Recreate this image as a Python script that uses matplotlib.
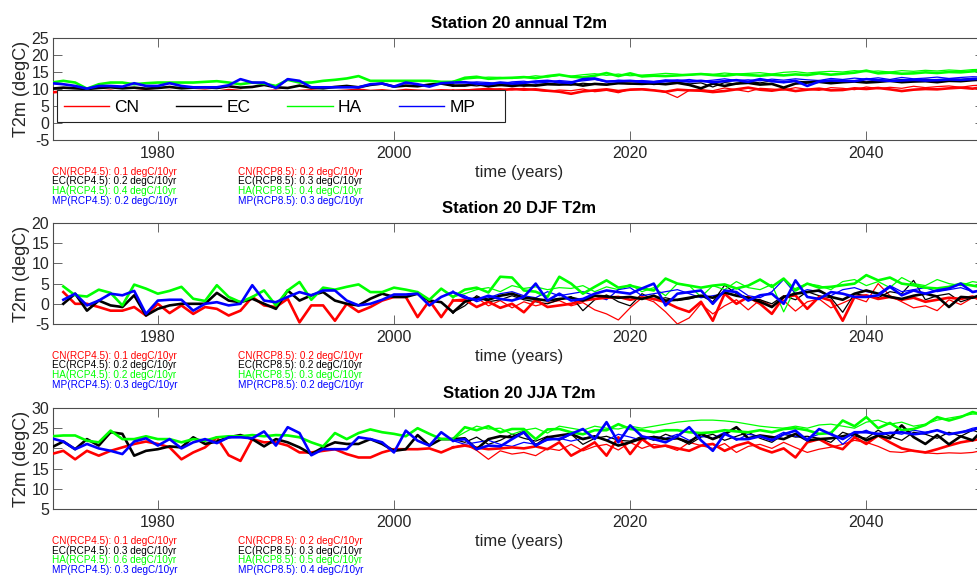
import matplotlib
matplotlib.use('Agg')
import matplotlib.pyplot as plt
from matplotlib.lines import Line2D
from matplotlib.patches import Rectangle

plt.rcParams['font.family'] = ['Liberation Sans', 'DejaVu Sans']
plt.rcParams['axes.unicode_minus'] = False

# ---------------- data ----------------
models = ['CN', 'EC', 'HA', 'MP']
model_colors = ['#ff0000', '#000000', '#00ff00', '#0000ff']

hist_years = list(range(1971, 2006))
djf_hist_years = list(range(1972, 2006))
fut_years = list(range(2006, 2051))

# annual
ann_hist_CN = [9.0, 9.3, 9.1, 8.8, 9.2, 9.5, 9.0, 9.3, 9.6, 9.2, 9.4, 9.1, 9.3, 9.5, 9.2, 9.7, 9.4, 9.0, 9.3, 9.5,
               9.1, 9.4, 9.6, 9.2, 9.3, 9.5, 9.8, 9.4, 9.6, 9.3, 9.7, 9.5, 9.4, 9.6, 9.5]
ann_hist_EC = [10.1, 10.4, 10.2, 10.0, 10.3, 10.5, 10.2, 10.4, 10.1, 10.3, 10.6, 10.2, 10.4, 10.5, 10.3, 10.8, 10.4, 10.6,
               11.2, 10.5, 10.3, 11.0, 10.4, 10.2, 10.6, 10.9, 10.5, 11.2, 11.6, 10.7, 11.0, 10.8, 11.3, 11.6, 11.0]
ann_hist_HA = [11.9, 12.4, 11.9, 10.1, 11.4, 11.9, 11.9, 11.4, 11.7, 11.9, 11.9, 11.9, 11.9, 12.1, 12.3, 11.9, 11.4, 11.9,
               11.6, 10.9, 12.7, 11.9, 11.9, 12.4, 12.7, 13.1, 13.8, 12.4, 12.4, 12.4, 12.4, 12.4, 12.4, 12.1, 12.1]
ann_hist_MP = [11.7, 11.4, 10.9, 10.1, 10.9, 10.9, 10.7, 11.7, 10.9, 10.9, 11.7, 10.9, 10.5, 10.5, 10.5, 11.1, 12.9, 11.9,
               11.9, 10.3, 12.9, 12.4, 10.5, 10.5, 10.5, 10.5, 10.5, 11.4, 11.6, 10.7, 11.9, 11.4, 10.7, 11.7, 11.9]

ann_45_CN = [9.5, 9.8, 10.0, 9.6, 10.0, 9.8, 9.9, 9.5, 9.2, 8.6, 9.3, 9.6, 9.9, 9.4, 9.8, 9.9, 9.6, 9.2, 9.8, 9.6,
             9.5, 9.1, 9.4, 9.9, 10.4, 9.8, 9.5, 10.0, 9.4, 9.8, 10.1, 9.6, 9.7, 10.2, 10.0, 10.3, 9.9, 9.4, 9.8, 10.0,
             9.9, 10.2, 10.4, 10.1, 10.6]
ann_85_CN = [9.8, 9.5, 9.9, 10.1, 9.7, 10.2, 9.6, 9.3, 9.7, 9.5, 10.0, 9.2, 9.6, 8.9, 9.9, 10.1, 9.7, 9.0, 7.5, 9.6,
             9.8, 9.5, 10.3, 9.8, 9.2, 10.2, 10.0, 9.7, 10.4, 9.9, 9.6, 10.4, 10.2, 9.8, 10.6, 10.1, 10.5, 10.2, 10.8, 10.4,
             10.7, 10.9, 10.5, 11.0, 11.2]
ann_45_EC = [11.0, 11.5, 10.8, 11.2, 10.9, 11.2, 11.0, 11.4, 11.3, 11.6, 11.0, 11.5, 11.3, 11.7, 11.6, 11.5, 11.7, 11.4,
             11.8, 11.2, 10.2, 11.6, 10.9, 11.6, 11.8, 11.3, 11.5, 10.4, 11.6, 11.9, 12.1, 11.7, 12.0, 12.2, 11.9, 12.1,
             12.4, 12.0, 12.2, 12.3, 12.0, 12.4, 12.3, 12.6, 12.8]
ann_85_EC = [11.2, 10.9, 11.3, 11.0, 11.5, 10.8, 11.2, 11.6, 11.3, 11.1, 11.7, 11.4, 11.2, 11.8, 11.5, 11.9, 11.3, 11.6,
             12.0, 11.5, 11.8, 10.6, 11.9, 11.4, 12.2, 11.8, 12.4, 11.9, 12.3, 12.1, 12.5, 12.2, 12.6, 12.3, 12.0, 12.7,
             12.4, 12.8, 12.5, 12.9, 12.6, 13.0, 12.8, 13.1, 13.0]
ann_45_HA = [13.3, 13.6, 13.0, 13.2, 13.3, 13.5, 13.2, 13.8, 14.2, 13.6, 13.4, 13.9, 14.7, 13.8, 14.6, 13.7, 13.9, 13.8,
             14.0, 14.2, 14.4, 14.1, 13.9, 14.3, 14.1, 13.9, 14.2, 14.0, 14.3, 14.1, 14.6, 14.2, 14.5, 14.8, 15.4, 14.6,
             14.8, 14.5, 14.6, 14.9, 14.7, 15.0, 14.9, 15.2, 15.5]
ann_85_HA = [12.9, 13.2, 13.5, 13.4, 13.1, 13.4, 13.9, 13.5, 14.0, 13.8, 14.2, 14.5, 14.0, 14.4, 13.9, 14.1, 14.3, 14.6,
             14.4, 14.0, 14.5, 14.3, 14.7, 14.4, 14.6, 14.8, 14.4, 14.9, 15.1, 14.7, 15.0, 15.2, 15.0, 15.4, 15.1, 15.3,
             15.0, 15.4, 15.2, 15.5, 15.3, 15.6, 15.4, 15.7, 15.8]
ann_45_MP = [12.0, 11.6, 11.4, 11.9, 11.6, 11.8, 12.2, 12.4, 12.0, 11.8, 12.9, 13.1, 12.2, 12.3, 12.4, 12.1, 12.0, 12.3,
             12.5, 12.2, 12.4, 12.0, 12.3, 12.6, 12.1, 12.9, 12.3, 12.0, 12.4, 10.9, 12.2, 12.5, 12.4, 12.3, 12.9, 12.6,
             12.4, 12.5, 12.7, 12.5, 12.6, 12.8, 12.7, 12.9, 13.1]
ann_85_MP = [11.8, 12.1, 11.9, 11.5, 12.1, 12.3, 11.7, 12.0, 12.5, 12.2, 12.4, 12.8, 12.1, 12.6, 12.3, 12.5, 12.2, 12.7,
             12.4, 12.8, 12.3, 12.6, 13.0, 12.5, 12.7, 12.4, 12.9, 12.6, 13.0, 12.7, 12.5, 13.1, 12.8, 13.2, 12.9, 13.3,
             12.8, 13.4, 13.0, 13.2, 13.5, 13.1, 13.4, 13.6, 13.5]

# DJF
djf_hist_CN = [2.9, 0.0, 0.0, -0.8, -1.7, -1.7, -0.8, -2.9, 0.0, -2.3, -0.4, -2.5, -0.8, -1.25, -2.9, -1.7, 1.7, -0.4,
               -0.8, 1.25, -4.6, -0.4, -0.4, -4.2, 0.0, -2.0, -0.8, 0.8, 1.7, 1.7, -3.3, 0.8, -3.3, 0.8]
djf_hist_EC = [0.0, 2.5, -1.7, 0.8, -0.4, -0.8, 2.1, -2.9, -1.25, -0.4, 0.0, 0.0, 0.0, 2.7, 0.8, 0.4, 1.25, 0.0, -1.25,
               3.3, 0.8, 2.1, 2.9, 0.8, 0.0, -0.4, 1.25, 2.5, 1.7, 1.7, 2.5, 0.8, 0.4, -2.1]
djf_hist_HA = [4.3, 2.1, 1.8, 3.5, 2.7, -0.4, 4.75, 3.75, 2.5, 3.2, 4.2, 1.25, 0.7, 4.6, 1.7, 0.4, 1.7, 3.3, -0.4, 3.3,
               5.4, 1.0, 4.0, 3.5, 4.2, 4.8, 2.9, 2.9, 4.0, 3.5, 2.9, 1.0, 3.75, 1.7]
djf_hist_MP = [1.0, 2.5, -0.4, 0.8, 2.5, 2.1, 3.2, -2.5, 0.8, 1.0, 1.0, -1.7, 0.0, 0.4, -0.4, 0.0, 4.6, 0.8, 0.4, 1.7,
               2.9, 2.1, 3.3, 3.3, 0.8, -0.4, 0.0, 1.0, 2.3, 2.3, 2.5, -0.4, 1.7, 2.9]

djf_45_CN = [1.0, -0.8, 0.5, -1.0, 0.0, -2.1, 1.0, -0.8, -0.4, 0.0, 0.8, 1.2, 1.5, 1.7, 1.0, 1.6, 1.2, 0.4, -1.0, -2.0,
             0.5, -4.2, 2.5, 0.0, 1.7, 0.0, -2.5, 1.7, 2.1, -1.25, 1.7, 0.8, -4.2, 1.7, 2.1, 1.2, 1.7, 1.0, 1.5, 0.5,
             1.0, 1.5, 1.2, 1.8, 0.5]
djf_85_CN = [0.5, 1.5, -0.5, 0.8, -1.0, 0.5, -0.5, 0.2, 0.8, -0.5, 0.3, -1.5, -2.5, -4.0, -1.0, 1.5, 0.5, -2.0, -5.0,
             -3.5, 0.0, -2.5, -0.5, 1.0, -1.5, 1.0, -0.5, 0.8, -1.8, 0.5, 1.2, -1.0, 0.2, 1.5, 0.5, 5.0, 2.0, 0.5, -1.0,
             -0.5, -1.7, 1.0, -0.2, 1.5, 1.0]
djf_45_EC = [0.5, 1.5, 1.0, 2.0, 2.5, 1.5, 1.2, 0.8, 1.2, 1.5, 0.8, 2.0, 1.8, 1.5, 1.7, 1.2, 2.0, 0.8, 1.0, 1.5, 2.0,
             1.5, 2.8, 2.0, 1.5, 0.5, -0.8, 1.7, 2.5, 2.9, 3.3, 1.7, 1.0, 2.5, 3.3, 2.5, 1.7, 1.2, 2.0, 2.5, 1.8, -0.8,
             1.7, 1.5, 2.5]
djf_85_EC = [-0.5, 2.0, 0.5, 1.0, 2.0, 1.0, 0.5, 0.0, 1.0, 1.8, -1.7, 1.0, 2.2, 0.5, -0.5, 2.5, 1.0, 1.5, 0.8, 1.2,
             2.0, 0.5, 4.6, 2.5, 1.5, 1.0, 0.0, 2.0, 1.0, 3.0, 2.0, 1.5, -2.1, 2.5, 2.0, 1.5, 3.0, 2.5, 5.8, 1.0, 2.0,
             2.5, 0.5, 1.5, 2.5]
djf_45_HA = [3.5, 4.0, 2.8, 6.7, 6.5, 3.3, 3.0, 1.7, 6.7, 5.0, 2.5, 4.2, 5.8, 4.0, 4.5, 3.8, 3.3, 6.25, 5.0, 4.5, 4.0,
             4.5, 4.8, 3.8, 4.5, 6.0, 4.2, 6.25, 3.3, 5.0, 4.0, 4.2, 4.6, 5.0, 7.1, 5.8, 6.5, 5.0, 4.6, 4.0, 3.8, 4.2,
             5.0, 4.5, 4.0]
djf_85_HA = [2.5, 3.5, 4.0, 3.0, 4.5, 3.8, 4.2, 3.5, 4.0, 3.8, 4.5, 3.0, 4.2, 3.5, 4.8, 3.0, 4.0, 2.0, 5.0, 4.5, 1.7,
             4.5, 3.5, 5.5, 4.0, 3.5, 4.8, -2.0, 3.8, 5.0, 4.5, 3.5, 5.5, 6.0, 4.5, 5.5, 4.0, 6.5, 5.0, 4.5, 6.0, 5.0,
             4.5, 5.5, 5.0]
djf_45_MP = [1.5, 1.0, 2.0, 1.2, 0.8, 1.7, 5.0, 0.8, 2.5, 0.8, 1.2, 2.5, 3.3, 2.9, 2.5, 3.8, 5.0, -0.4, 2.5, 2.9, 3.3,
             0.0, 3.3, 2.9, 0.8, 2.1, 2.5, 0.0, 5.8, 1.7, 1.2, 2.9, 2.5, 1.7, 1.7, 2.1, 4.2, 2.1, 3.3, 2.5, 3.3, 3.8,
             5.0, 2.9, 3.5]
djf_85_MP = [2.0, 0.5, 1.5, 2.5, 3.0, 2.0, 1.5, 3.0, 2.0, 2.5, 3.0, 2.0, 1.0, 3.5, 4.0, 2.0, 2.5, 3.0, 3.5, 2.5, 1.5,
             2.0, 2.5, 4.0, 2.0, 1.5, 3.0, 6.0, 2.5, 3.5, 3.0, 2.0, 3.5, 4.0, 3.0, 2.5, 4.5, 3.0, 3.5, 4.0, 3.0, 3.5,
             4.0, 3.0, 3.5]

# JJA
jja_hist_CN = [18.6, 19.4, 17.3, 19.4, 18.2, 19.4, 20.25, 21.1, 21.7, 21.1, 20.25, 17.3, 19.0, 20.25, 22.75, 18.3, 16.9,
               22.3, 21.5, 21.5, 20.7, 19.0, 19.0, 19.4, 19.8, 18.6, 17.75, 17.75, 19.0, 19.8, 19.8, 19.8, 20.0, 19.0,
               20.25]
jja_hist_EC = [20.25, 21.7, 19.8, 22.3, 20.7, 24.0, 23.6, 18.2, 19.4, 19.8, 20.5, 20.25, 22.75, 21.1, 21.7, 22.75, 23.3,
               22.3, 20.5, 22.3, 21.5, 20.25, 18.6, 20.25, 21.5, 21.1, 21.1, 22.3, 21.1, 19.4, 19.8, 23.3, 20.7, 22.3,
               22.3]
jja_hist_HA = [23.0, 23.2, 23.2, 21.9, 21.5, 24.4, 22.3, 22.3, 23.0, 22.3, 22.3, 21.5, 22.3, 21.9, 22.75, 23.0, 23.0,
               23.3, 23.0, 23.3, 23.2, 22.75, 21.5, 20.5, 23.8, 22.3, 23.8, 24.7, 24.0, 23.6, 23.0, 25.0, 23.6, 22.3,
               22.3]
jja_hist_MP = [22.5, 21.7, 19.8, 21.1, 20.0, 19.4, 18.6, 21.7, 22.5, 20.7, 22.3, 20.0, 21.5, 22.3, 21.3, 22.75, 22.75,
               22.5, 24.2, 20.7, 25.25, 23.8, 18.3, 19.8, 19.8, 19.8, 22.75, 22.3, 21.5, 19.0, 24.4, 21.9, 20.7, 24.0,
               21.9]

jja_45_CN = [20.7, 20.2, 19.8, 20.0, 20.25, 20.0, 20.5, 19.8, 21.5, 18.2, 19.8, 21.5, 18.2, 22.75, 18.6, 22.3, 20.25,
             20.7, 20.0, 19.4, 20.7, 21.1, 19.4, 20.7, 21.5, 20.0, 19.0, 20.0, 17.75, 21.5, 22.3, 20.7, 19.8, 22.75,
             21.1, 23.2, 21.5, 20.0, 19.4, 19.0, 19.8, 20.7, 21.5, 22.0, 22.5]
jja_85_CN = [21.0, 19.5, 17.3, 19.4, 18.6, 19.0, 18.2, 20.0, 19.5, 21.0, 19.4, 20.5, 21.0, 19.6, 21.5, 20.0, 21.0, 20.5,
             19.5, 21.5, 20.7, 20.0, 21.2, 19.0, 20.5, 21.0, 20.0, 21.5, 20.2, 19.0, 19.8, 20.3, 21.0, 22.0, 21.5, 20.5,
             19.2, 19.0, 19.5, 18.9, 18.7, 18.9, 18.8, 19.0, 19.6]
jja_45_EC = [22.5, 19.8, 22.3, 23.0, 22.75, 24.0, 20.7, 22.75, 23.2, 23.6, 22.3, 23.0, 22.0, 20.7, 21.5, 22.5, 22.8,
             22.3, 22.5, 21.5, 23.6, 22.3, 23.5, 25.25, 22.5, 23.2, 22.8, 22.3, 23.6, 22.0, 22.3, 22.5, 23.0, 23.6, 22.0,
             23.2, 22.5, 25.7, 22.8, 21.1, 23.3, 21.0, 23.0, 22.0, 25.0]
jja_85_EC = [21.5, 22.8, 21.0, 22.0, 23.5, 22.5, 21.8, 23.0, 22.0, 23.5, 21.0, 22.5, 23.0, 22.0, 21.8, 23.0, 22.0, 23.5,
             22.5, 21.0, 22.8, 23.5, 22.0, 23.0, 24.0, 22.5, 21.5, 23.5, 22.8, 23.0, 22.5, 21.5, 24.0, 23.0, 22.5, 24.5,
             23.0, 22.0, 24.0, 23.5, 22.5, 24.0, 23.0, 24.5, 23.5]
jja_45_HA = [25.25, 24.5, 25.5, 24.0, 24.8, 24.8, 22.3, 24.7, 24.8, 24.0, 23.5, 24.5, 24.5, 26.0, 24.8, 24.5, 24.0, 24.5,
             24.5, 24.0, 23.8, 24.0, 24.5, 24.2, 24.0, 24.5, 24.0, 24.8, 25.0, 24.5, 23.6, 23.8, 26.9, 25.5, 27.75, 25.0,
             26.3, 24.5, 24.8, 25.8, 27.75, 26.9, 27.75, 29.0, 28.2]
jja_85_HA = [24.0, 25.5, 24.8, 25.0, 23.5, 24.5, 25.0, 23.8, 25.5, 25.0, 24.5, 25.5, 25.0, 24.8, 25.5, 25.0, 25.5, 26.0,
             26.5, 26.8, 27.0, 27.0, 26.8, 26.5, 26.0, 25.5, 25.2, 25.0, 25.5, 25.0, 25.8, 26.0, 25.5, 25.0, 26.5, 27.0,
             26.0, 26.5, 25.5, 26.0, 27.0, 27.5, 28.0, 28.5, 28.5]
jja_45_MP = [22.3, 19.8, 20.7, 20.5, 22.3, 24.0, 20.7, 22.3, 22.3, 23.6, 24.8, 22.3, 26.5, 21.5, 25.7, 23.0, 22.3, 21.5,
             23.0, 25.25, 22.0, 19.4, 23.6, 22.3, 22.3, 23.0, 22.0, 23.5, 24.4, 22.0, 24.8, 23.5, 22.3, 24.0, 24.0, 23.6,
             23.8, 24.0, 23.5, 23.8, 24.5, 23.5, 24.0, 24.5, 25.7]
jja_85_MP = [21.0, 21.5, 22.0, 21.0, 20.5, 21.5, 21.0, 22.0, 22.5, 21.8, 22.5, 23.0, 22.0, 23.5, 22.8, 22.0, 23.0, 22.5,
             23.5, 22.0, 23.0, 22.5, 24.0, 22.0, 23.5, 23.0, 22.5, 24.0, 23.0, 22.5, 23.5, 24.0, 21.0, 23.5, 24.5, 23.0,
             24.0, 23.5, 24.5, 24.0, 24.5, 23.5, 24.0, 25.0, 25.5]

# trend labels (degC/10yr)
ann_trend45 = ['0.1', '0.2', '0.4', '0.2']
ann_trend85 = ['0.2', '0.3', '0.4', '0.3']
djf_trend45 = ['0.1', '0.2', '0.2', '0.3']
djf_trend85 = ['0.2', '0.2', '0.3', '0.2']
jja_trend45 = ['0.1', '0.3', '0.6', '0.3']
jja_trend85 = ['0.2', '0.3', '0.5', '0.4']

titles = ['Station 20 annual T2m', 'Station 20 DJF T2m', 'Station 20 JJA T2m']
ylims = [(-5, 25), (-5, 20), (5, 30)]
yticks = [list(range(-5, 30, 5)), list(range(-5, 25, 5)), list(range(5, 35, 5))]

# ---------------- figure ----------------
W, H = 977, 577
fig = plt.figure(figsize=(W / 100, H / 100), dpi=100)

ax_left_px, ax_right_px = 53.3, 984.4
panel_px = [(38, 140), (223, 324), (408, 509)]
xlim = (1971.15, 2050)
text_color = '#262626'
spine_color = '#4d4d4d'

panels = [
    (hist_years, [ann_hist_CN, ann_hist_EC, ann_hist_HA, ann_hist_MP],
     [ann_45_CN, ann_45_EC, ann_45_HA, ann_45_MP], [ann_85_CN, ann_85_EC, ann_85_HA, ann_85_MP],
     ann_trend45, ann_trend85),
    (djf_hist_years, [djf_hist_CN, djf_hist_EC, djf_hist_HA, djf_hist_MP],
     [djf_45_CN, djf_45_EC, djf_45_HA, djf_45_MP], [djf_85_CN, djf_85_EC, djf_85_HA, djf_85_MP],
     djf_trend45, djf_trend85),
    (hist_years, [jja_hist_CN, jja_hist_EC, jja_hist_HA, jja_hist_MP],
     [jja_45_CN, jja_45_EC, jja_45_HA, jja_45_MP], [jja_85_CN, jja_85_EC, jja_85_HA, jja_85_MP],
     jja_trend45, jja_trend85),
]

ax_w_px = ax_right_px - ax_left_px

for k, (hy, hist, r45, r85, t45, t85) in enumerate(panels):
    top, bot = panel_px[k]
    ax_h_px = bot - top
    ax = fig.add_axes([ax_left_px / W, 1 - bot / H, ax_w_px / W, ax_h_px / H])
    # scenario runs continue from the last historical year
    fx = [hy[-1]] + fut_years
    for i in range(4):
        ax.plot(fx, [hist[i][-1]] + r85[i], color=model_colors[i], lw=0.9, zorder=2)
    for i in range(4):
        ax.plot(fx, [hist[i][-1]] + r45[i], color=model_colors[i], lw=1.9, zorder=3)
    for i in range(4):
        ax.plot(hy, hist[i], color=model_colors[i], lw=1.9, zorder=3)
    ax.set_xlim(*xlim)
    ax.set_ylim(*ylims[k])
    ax.set_yticks(yticks[k])
    ax.set_xticks([1980, 2000, 2020, 2040])
    ax.tick_params(direction='in', length=6.5, width=0.6, top=True, right=True,
                   colors=spine_color, labelcolor=text_color, labelsize=11.5)
    ax.tick_params(axis='x', pad=4)
    ax.tick_params(axis='y', pad=3)
    for s in ax.spines.values():
        s.set_color(spine_color)
        s.set_linewidth(0.8)
    ax.set_title(titles[k], fontsize=12, fontweight='bold', color='#000000', pad=7)
    ax.set_ylabel('T2m (degC)', fontsize=13, color=text_color, labelpad=1)
    ax.set_xlabel('time (years)', fontsize=12, color=text_color, labelpad=3)

    if k == 0:
        # legend box (pixel extents 57..505 x, 90..122 y)
        bx0 = (57 - ax_left_px) / ax_w_px
        bx1 = (505 - ax_left_px) / ax_w_px
        by0 = (bot - 122) / ax_h_px
        by1 = (bot - 90) / ax_h_px
        ax.add_patch(Rectangle((bx0, by0), bx1 - bx0, by1 - by0, transform=ax.transAxes,
                               facecolor='white', edgecolor='#222222', lw=0.8, zorder=9))
        ex1 = (482 - ax_left_px) / ax_w_px
        handles = [Line2D([0], [0], color=c, lw=1.0) for c in model_colors]
        leg = ax.legend(handles, models, loc='lower left', ncol=4, mode='expand',
                        bbox_to_anchor=(bx0, by0, ex1 - bx0, by1 - by0), borderaxespad=0,
                        fontsize=12.5, handlelength=2.6, handletextpad=0.3, frameon=False)
        leg.set_zorder(10)

    # trend annotations
    for i in range(4):
        y = bot + 31.7 + 9.8 * i
        fig.text(52 / W, 1 - y / H, f'{models[i]}(RCP4.5): {t45[i]} degC/10yr',
                 color=model_colors[i], fontsize=7.2, va='center', ha='left')
        fig.text(238 / W, 1 - y / H, f'{models[i]}(RCP8.5): {t85[i]} degC/10yr',
                 color=model_colors[i], fontsize=7.2, va='center', ha='left')

fig.savefig('out.png', dpi=100)
